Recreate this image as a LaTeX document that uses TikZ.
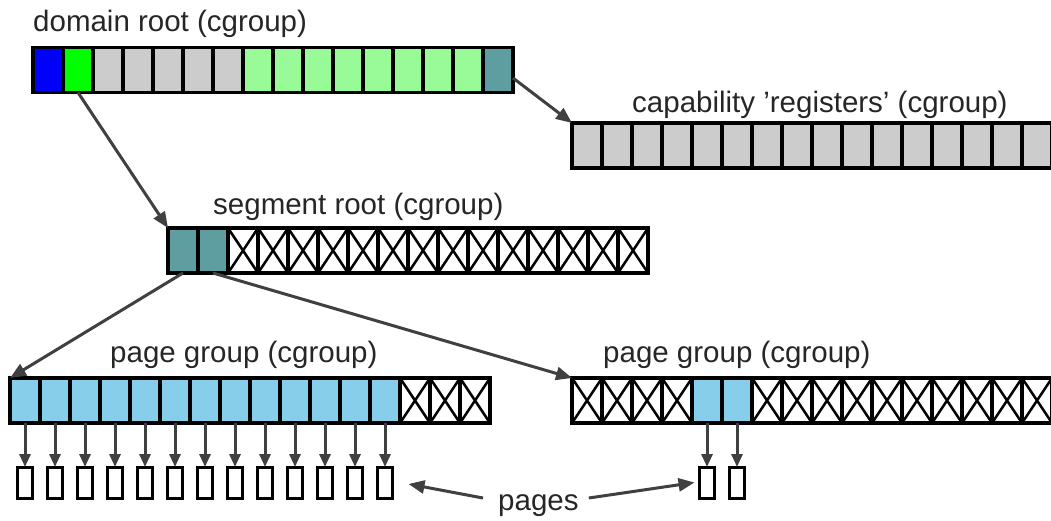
\documentclass[tikz,border=0pt]{standalone}
\usepackage{fontspec}
\setmainfont{Liberation Sans}
\usetikzlibrary{arrows.meta}
\definecolor{txt}{HTML}{262626}
\definecolor{arr}{HTML}{404040}
\definecolor{cblue}{HTML}{0000FF}
\definecolor{cgreen}{HTML}{00FF00}
\definecolor{cgray}{HTML}{CCCCCC}
\definecolor{cpale}{HTML}{98FB98}
\definecolor{cteal}{HTML}{5F9EA0}
\definecolor{csky}{HTML}{87CEEB}
\begin{document}
\begin{tikzpicture}[x=1pt,y=-1pt,
 cell/.style={draw=black, line width=3.5pt, minimum width=30pt, minimum height=45pt, inner sep=0pt, outer sep=0pt},
 xcell/.style={cell, fill=white, path picture={\draw[line width=2.5pt] (path picture bounding box.north west) -- (path picture bounding box.south east) (path picture bounding box.south west) -- (path picture bounding box.north east);}},
 pagebox/.style={draw=black, line width=3pt, minimum width=15pt, minimum height=31pt, inner sep=0pt, outer sep=0pt},
 lbl/.style={text=txt, font=\fontsize{29.5}{34}\selectfont, inner sep=0pt, anchor=base west},
 conn/.style={draw=arr, line width=3pt, -{Triangle[length=16pt,width=13pt]}},
 parr/.style={draw=arr, line width=3pt, -{Triangle[length=13pt,width=11pt]}}]
\useasboundingbox (0,0) rectangle (1051,520);

% labels
\node[lbl] (ldom) at (33,31) {domain root (cgroup)};
\node[lbl] (lcap) at (632,112) {capability 'registers' (cgroup)};
\node[lbl] (lseg) at (213,214) {segment root (cgroup)};
\node[lbl] (lpg1) at (110,362) {page group (cgroup)};
\node[lbl] (lpg2) at (603,362) {page group (cgroup)};
\node[lbl] (pg) at (498,510) {pages};

% domain root
\foreach \i/\c in {1/cblue,2/cgreen,3/cgray,4/cgray,5/cgray,6/cgray,7/cgray,8/cpale,9/cpale,10/cpale,11/cpale,12/cpale,13/cpale,14/cpale,15/cpale,16/cteal}
  \node[cell, fill=\c] (d\i) at ({18+30*\i},70) {};

% capability registers
\foreach \i in {1,...,16}
  \node[cell, fill=cgray] (c\i) at ({557+30*\i},145.5) {};

% segment root
\foreach \i in {1,2}
  \node[cell, fill=cteal] (s\i) at ({153+30*\i},250.5) {};
\foreach \i in {3,...,16}
  \node[xcell] (s\i) at ({153+30*\i},250.5) {};

% left page group
\foreach \i in {1,...,13}
  \node[cell, fill=csky] (l\i) at ({-5+30*\i},400.5) {};
\foreach \i in {14,15,16}
  \node[xcell] (l\i) at ({-5+30*\i},400.5) {};

% right page group
\foreach \i in {1,2,3,4,7,8,9,10,11,12,13,14,15,16}
  \node[xcell] (r\i) at ({557+30*\i},400.5) {};
\foreach \i in {5,6}
  \node[cell, fill=csky] (r\i) at ({557+30*\i},400.5) {};

% pages
\foreach \i in {1,...,13} {
  \node[pagebox] (p\i) at ({-5+30*\i},482.5) {};
  \draw[parr] (l\i.south) -- (p\i.north);
}
\foreach \i in {5,6} {
  \node[pagebox] (q\i) at ({557+30*\i},482.5) {};
  \draw[parr] (r\i.south) -- (q\i.north);
}

% connectors
\draw[conn] (d2.south) -- (s1.north west);
\draw[conn] ([yshift=-8pt]d16.east) -- (c1.north west);
\draw[conn] (s1.south) -- (l1.north west);
\draw[conn] (s2.south) -- (r1.north west);
\draw[conn] ([xshift=-15pt,yshift=12pt]pg.base west) -- ([xshift=16pt,yshift=-1.5pt]p13.east);
\draw[conn] ([xshift=10pt,yshift=12pt]pg.base east) -- ([xshift=-5pt]q5.west);
\end{tikzpicture}
\end{document}
